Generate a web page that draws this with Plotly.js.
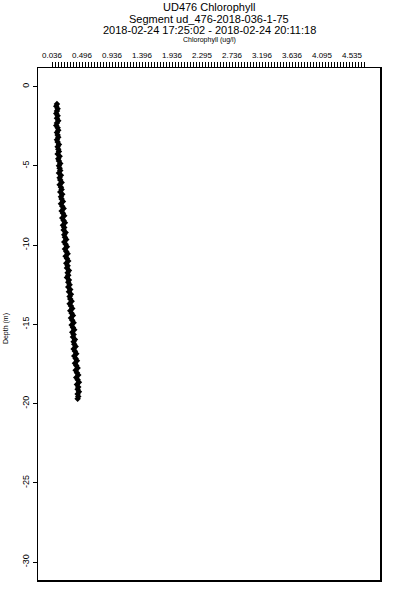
<!DOCTYPE html>
<html>
<head>
<meta charset="utf-8">
<script src="https://cdn.plot.ly/plotly-3.0.1.min.js"></script>
<style>html,body{margin:0;padding:0;background:#fff;}#chart{width:400px;height:600px;}</style>
</head>
<body>
<div id="chart"></div>
<script>
// Chlorophyll (ug/l) vs depth (m)
const depth = [-1.10,-1.25,-1.40,-1.55,-1.70,-1.85,-2.00,-2.15,-2.30,-2.45,-2.60,-2.75,-2.90,-3.05,-3.20,-3.35,-3.50,-3.65,-3.80,-3.95,
  -4.10,-4.25,-4.40,-4.55,-4.70,-4.85,-5.00,-5.15,-5.30,-5.45,-5.60,-5.75,-5.90,-6.05,-6.20,-6.35,-6.50,-6.65,-6.80,-6.95,
  -7.10,-7.25,-7.40,-7.55,-7.70,-7.85,-8.00,-8.15,-8.30,-8.45,-8.60,-8.75,-8.90,-9.05,-9.20,-9.35,-9.50,-9.65,-9.80,-9.95,
  -10.10,-10.25,-10.40,-10.55,-10.70,-10.85,-11.00,-11.15,-11.30,-11.45,-11.60,-11.75,-11.90,-12.05,-12.20,-12.35,-12.50,-12.65,-12.80,-12.95,
  -13.10,-13.25,-13.40,-13.55,-13.70,-13.85,-14.00,-14.15,-14.30,-14.45,-14.60,-14.75,-14.90,-15.05,-15.20,-15.35,-15.50,-15.65,-15.80,-15.95,
  -16.10,-16.25,-16.40,-16.55,-16.70,-16.85,-17.00,-17.15,-17.30,-17.45,-17.60,-17.75,-17.90,-18.05,-18.20,-18.35,-18.50,-18.65,-18.80,-18.95,
  -19.10,-19.25,-19.40,-19.55,-19.70];
const chlorophyll = [0.11,0.10,0.12,0.11,0.10,0.12,0.11,0.13,0.11,0.10,0.12,0.13,0.11,0.12,0.13,0.11,0.12,0.14,0.12,0.13,
  0.14,0.12,0.15,0.13,0.14,0.16,0.14,0.15,0.16,0.14,0.17,0.15,0.16,0.18,0.15,0.17,0.18,0.16,0.19,0.17,
  0.18,0.20,0.17,0.19,0.21,0.18,0.20,0.22,0.19,0.21,0.23,0.20,0.22,0.21,0.24,0.22,0.23,0.25,0.22,0.24,
  0.26,0.23,0.25,0.27,0.24,0.26,0.28,0.25,0.27,0.26,0.29,0.27,0.28,0.26,0.29,0.28,0.30,0.28,0.31,0.29,
  0.32,0.30,0.31,0.33,0.30,0.32,0.34,0.31,0.33,0.35,0.32,0.34,0.36,0.33,0.35,0.37,0.34,0.36,0.35,0.38,
  0.36,0.37,0.39,0.36,0.38,0.40,0.37,0.39,0.41,0.38,0.40,0.42,0.39,0.41,0.43,0.40,0.42,0.44,0.41,0.43,
  0.42,0.44,0.42,0.43,0.42];
const xTickLabels = ["0.036","0.496","0.936","1.396","1.936","2.295","2.736","3.196","3.636","4.095","4.535"];
const yTickVals = [0,-5,-10,-15,-20,-25,-30];
const titleLines = ["UD476 Chlorophyll","Segment ud_476-2018-036-1-75","2018-02-24 17:25:02 - 2018-02-24 20:11:18"];

// tick positions: a major every 0.45 with 9 minor ticks between
const tickVals = [], tickText = [];
for (let k = 0; k <= 104; k++) {
  tickVals.push(0.036 + 0.045 * k);
  tickText.push(k % 10 === 0 && xTickLabels[k / 10] !== undefined ? xTickLabels[k / 10] : "");
}

const FONT = "Liberation Sans, Arial, sans-serif";

const trace = {
  x: chlorophyll, y: depth, type: "scatter", mode: "lines+markers",
  line: {color: "#000", width: 2.5},
  marker: {color: "#000", size: 5, symbol: "diamond"},
  showlegend: false, cliponaxis: true
};

const annotations = titleLines.map((t, i) => ({
  text: t, xref: "paper", x: 0.5, yref: "paper", y: 1, yshift: 61 - i * 11.5,
  yanchor: "middle", showarrow: false, font: {family: FONT, size: 11, color: "#000"}
}));
annotations.push({text: "Chlorophyll (ug/l)", xref: "paper", x: 0.5, yref: "paper", y: 1, yshift: 28,
  yanchor: "middle", showarrow: false, font: {family: FONT, size: 7, color: "#000"}});
annotations.push({text: "Depth (m)", xref: "paper", x: 0, xshift: -32, xanchor: "center", yref: "paper", y: 0.49,
  textangle: -90, showarrow: false, font: {family: FONT, size: 7, color: "#000"}});

const layout = {
  width: 400, height: 600,
  margin: {l: 38, r: 20, t: 68, b: 20},
  paper_bgcolor: "#fff", plot_bgcolor: "#fff",
  font: {family: FONT, color: "#000"},
  showlegend: false,
  xaxis: {
    side: "top", range: [-0.174, 4.956], tickmode: "array", tickvals: tickVals, ticktext: tickText,
    ticks: "outside", ticklen: 5, tickwidth: 1, tickcolor: "#000",
    tickfont: {family: FONT, size: 8, color: "#000"}, tickangle: 0,
    showline: true, linecolor: "#000", linewidth: 1.5, mirror: true,
    showgrid: false, zeroline: false
  },
  yaxis: {
    range: [-31.13, 1.17], tickmode: "array", tickvals: yTickVals, ticktext: yTickVals.map(String),
    ticks: "outside", ticklen: 4, tickwidth: 1, tickcolor: "#000",
    tickfont: {family: FONT, size: 9, color: "#000"}, tickangle: -90,
    showline: true, linecolor: "#000", linewidth: 1.5, mirror: true,
    showgrid: false, zeroline: false
  },
  annotations: annotations
};

Plotly.newPlot("chart", [trace], layout, {displayModeBar: false, staticPlot: true});
</script>
</body>
</html>
